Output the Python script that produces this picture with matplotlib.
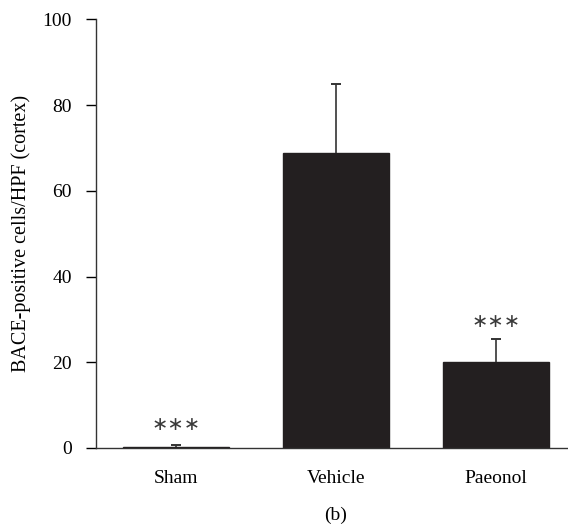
import matplotlib.pyplot as plt
import numpy as np

# data
groups = ["Sham", "Vehicle", "Paeonol"]
means = [0.3, 68.9, 20.1]
errors = [0.3, 16.0, 5.3]
stars = ["∗∗∗", "", "∗∗∗"]
star_y = [5.4, None, 29.5]

plt.rcParams['font.family'] = ['Liberation Serif', 'DejaVu Serif']

fig = plt.figure(figsize=(5.68, 5.27), dpi=100)
ax = fig.add_axes([0.169, 0.150, 0.831, 0.813])

x = np.arange(len(groups))
ax.bar(x, means, width=0.667, color="#231f20", edgecolor="#231f20", zorder=2)

# upper error bars only, cap just at the top
tops = np.array(means) + np.array(errors)
ax.vlines(x, means, tops, color="#333333", lw=1.2, zorder=3)
ax.hlines(tops, x - 0.03, x + 0.03, color="#333333", lw=1.4, zorder=3)

for xi, s, sy in zip(x, stars, star_y):
    if s:
        ax.text(xi, sy, s, ha="center", va="center", fontsize=14,
                color="#3a3a3a", family=['DejaVu Sans'])

ax.set_xlim(-0.5, 2.45)
ax.set_ylim(0, 100)
ax.set_yticks(np.arange(0, 101, 20))
ax.set_xticks(x)
ax.set_xticklabels(groups)
ax.tick_params(axis="x", length=0, pad=16, labelsize=14)
ax.tick_params(axis="y", direction="out", length=7.5, width=1, labelsize=14, pad=10)
ax.set_ylabel("BACE-positive cells/HPF (cortex)", fontsize=14.5, labelpad=8)

ax.spines["top"].set_visible(False)
ax.spines["right"].set_visible(False)
for sp in ["left", "bottom"]:
    ax.spines[sp].set_color("#333333")
    ax.spines[sp].set_linewidth(1)

fig.text(336 / 568, 1 - 515 / 527, "(b)", ha="center", va="center", fontsize=14)

plt.savefig("out.png", dpi=100)
